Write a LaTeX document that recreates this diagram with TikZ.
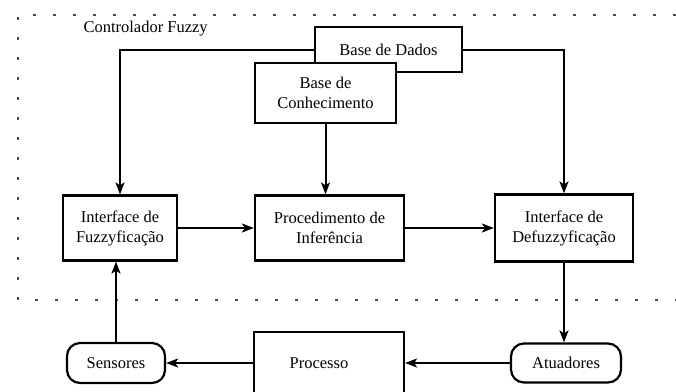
\documentclass[tikz,border=0pt]{standalone}
\usepackage{fontspec}
\setmainfont{Liberation Serif}
\usepackage{tikz}
\usetikzlibrary{positioning}
\usetikzlibrary{arrows.meta}

\tikzset{
	bloco/.style={rectangle, line width=2.2pt, draw=black, fill=white, text centered, align=center, inner sep=0pt},
	sensor/.style={bloco, rounded corners=13pt},
	seta/.style={line width=2pt, draw, -{Stealth[length=12pt, width=9pt, inset=3pt]}},
	borda/.style={line width=2pt, draw=black!70, dash pattern=on 3pt off 17pt}
}

\begin{document}
\begin{tikzpicture}[x=1pt, y=-1pt, font=\fontsize{16.5}{20}\selectfont]
	\useasboundingbox (0,0) rectangle (676,391);

	\path[borda] (676,15) -- (18,15) -- (18,300) -- (676,300);
	\node[anchor=west] (titulo) at (80,29) {Controlador Fuzzy};

	\node[bloco, minimum width=147pt, minimum height=45pt] (dados) at (388.5,49.5) {Base de Dados};
	\node[bloco, minimum width=141pt, minimum height=60pt] (conhec) at (325.5,93) {Base de\\Conhecimento};

	\node[bloco, minimum width=114pt, minimum height=65pt] (fuzz) at (120,228) {Interface de\\Fuzzyficação};
	\node[right of=fuzz, node distance=209.5pt, bloco, minimum width=149pt, minimum height=65pt] (infer) {Procedimento de\\Inferência};
	\node[right of=infer, node distance=234.5pt, bloco, minimum width=138pt, minimum height=67pt] (defuzz) {Interface de\\Defuzzyficação};

%	processo sai pela borda de baixo
	\node[bloco, anchor=north, minimum width=150pt, text height=36pt, text depth=64pt] (processo) at (329,331) {Processo\hspace*{20pt}};
	\node[sensor, minimum width=98pt, minimum height=40pt] (sensores) at (116,363) {Sensores};
	\node[sensor, minimum width=110pt, minimum height=39pt] (atuad) at (566,363) {Atuadores};

	\path [seta] (dados.west) -| (fuzz.north);
	\path [seta] (dados.east) -| (defuzz.north);
	\path [seta] (conhec.south) -- (conhec.south |- infer.north);
	\path [seta] (fuzz) -- (infer);
	\path [seta] (infer) -- (defuzz);
	\path [seta] (defuzz.south) -- (defuzz.south |- atuad.north);
	\path [seta] (atuad.west) -- (atuad.west -| processo.east);
	\path [seta] (sensores.east -| processo.west) -- (sensores.east);
	\path [seta] (sensores.north) -- (sensores.north |- fuzz.south);
\end{tikzpicture}
\end{document}
